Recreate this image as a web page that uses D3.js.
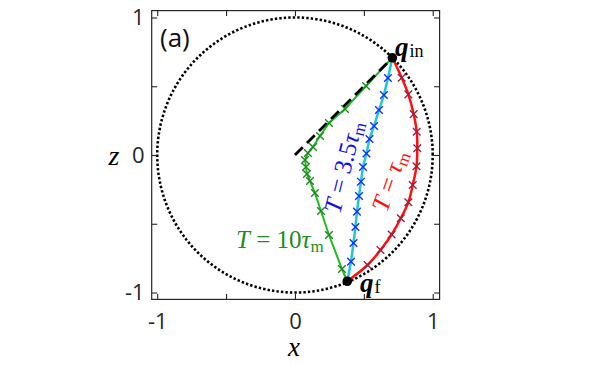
<!DOCTYPE html>
<html><head><meta charset="utf-8">
<script src="https://cdn.jsdelivr.net/npm/d3@7/dist/d3.min.js"></script>
<style>body{margin:0;background:#fff}svg{display:block}</style>
</head><body>
<svg id="c" width="598" height="365"></svg>
<script>
// ---- data ----
const xTicks = [-1, -0.5, 0, 0.5, 1];
const zTicks = [-1, -0.5, 0, 0.5, 1];
const tickLabels = {"-1": "-1", "0": "0", "1": "1"};
const qIn = [0.707, 0.707];
const qF = [0.38, -0.918];
// T = tau_m (red)
const redX = [0.775, 0.823, 0.862, 0.884, 0.888, 0.882, 0.855, 0.823, 0.768, 0.702, 0.621, 0.527];
const redZ = [0.562, 0.441, 0.297, 0.169, 0.049, -0.082, -0.218, -0.344, -0.460, -0.578, -0.691, -0.800];
// T = 3.5 tau_m (blue)
const blueX = [0.675, 0.646, 0.610, 0.574, 0.541, 0.519, 0.494, 0.479, 0.465, 0.450, 0.439, 0.425, 0.407];
const blueZ = [0.560, 0.436, 0.327, 0.211, 0.116, 0.011, -0.087, -0.194, -0.298, -0.412, -0.524, -0.640, -0.775];
// T = 10 tau_m (green)
const greenX = [0.516, 0.363, 0.247, 0.182, 0.131, 0.094, 0.073, 0.080, 0.087, 0.109, 0.145, 0.189, 0.247, 0.341];
const greenZ = [0.502, 0.335, 0.233, 0.138, 0.058, 0.015, -0.036, -0.087, -0.138, -0.189, -0.276, -0.407, -0.582, -0.829];

// ---- layout ----
const svg = d3.select("#c");
const x = d3.scaleLinear().domain([-1.04, 1.05]).range([151.7, 439.6]);
const z = d3.scaleLinear().domain([-1.05, 1.05]).range([299.4, 10.6]);
const X0 = x.range()[0], X1 = x.range()[1], Z0 = z.range()[1], Z1 = z.range()[0];
const axisCol = "#262626";
const sans = "'Open Sans', 'Noto Sans', sans-serif";
const serif = "'Liberation Serif', 'DejaVu Serif', serif";

// unit circle (dotted)
const circ = d3.range(0, 361, 1).map(a => [Math.cos(a * Math.PI / 180), Math.sin(a * Math.PI / 180)]);
svg.append("path")
  .attr("d", d3.line().x(d => x(d[0])).y(d => z(d[1]))(circ))
  .attr("fill", "none").attr("stroke", "#000").attr("stroke-width", 2.6)
  .attr("stroke-dasharray", "2.4,2.1");

const line = (curve) => d3.line().x(d => x(d[0])).y(d => z(d[1])).curve(curve);
function series(xs, zs) {
  return [qIn].concat(xs.map((v, i) => [v, zs[i]])).concat([qF]);
}
const redPts = series(redX, redZ);
const bluePts = series(blueX, blueZ);
const greenPts = series(greenX, greenZ);

svg.append("path").attr("d", line(d3.curveLinear)(greenPts))
  .attr("fill", "none").attr("stroke", "#22bb22").attr("stroke-width", 2);
svg.append("path").attr("d", line(d3.curveLinear)(bluePts))
  .attr("fill", "none").attr("stroke", "#1ec8d2").attr("stroke-width", 2.5);
svg.append("path").attr("d", line(d3.curveCatmullRom.alpha(0.5))(redPts))
  .attr("fill", "none").attr("stroke", "#ff1010").attr("stroke-width", 2.5);

// dashed line from origin to q_in
svg.append("path").attr("d", line(d3.curveLinear)([[0, 0], qIn]))
  .attr("fill", "none").attr("stroke", "#000").attr("stroke-width", 2.8)
  .attr("stroke-dasharray", "11,6");

// x markers
function markers(xs, zs, col) {
  const s = 3.8;
  svg.append("g").selectAll("path").data(xs.map((v, i) => [v, zs[i]])).join("path")
    .attr("d", d => {
      const px = x(d[0]), py = z(d[1]);
      return `M${px - s},${py - s}L${px + s},${py + s}M${px - s},${py + s}L${px + s},${py - s}`;
    })
    .attr("stroke", col).attr("stroke-width", 1.4).attr("fill", "none");
}
markers(greenX, greenZ, "#1c8a1c");
markers(blueX, blueZ, "#1030ff");
markers(redX, redZ, "#9a2040");

// endpoints
svg.append("g").selectAll("circle").data([qIn, qF]).join("circle")
  .attr("cx", d => x(d[0])).attr("cy", d => z(d[1])).attr("r", 4.8).attr("fill", "#000");

// axes box
svg.append("rect").attr("x", X0).attr("y", Z0).attr("width", X1 - X0).attr("height", Z1 - Z0)
  .attr("fill", "none").attr("stroke", axisCol).attr("stroke-width", 1.2);

const fmt = v => tickLabels[String(v)] || "";
const tk = 5.5;
const gB = svg.append("g").attr("transform", `translate(0,${Z1})`)
  .call(d3.axisBottom(x).tickValues(xTicks).tickSizeInner(-tk).tickSizeOuter(0).tickPadding(14).tickFormat(fmt));
const gT = svg.append("g").attr("transform", `translate(0,${Z0})`)
  .call(d3.axisTop(x).tickValues(xTicks).tickSizeInner(-tk).tickSizeOuter(0).tickFormat(""));
const gL = svg.append("g").attr("transform", `translate(${X0},0)`)
  .call(d3.axisLeft(z).tickValues(zTicks).tickSizeInner(-tk).tickSizeOuter(0).tickPadding(7).tickFormat(fmt));
const gR = svg.append("g").attr("transform", `translate(${X1},0)`)
  .call(d3.axisRight(z).tickValues(zTicks).tickSizeInner(-tk).tickSizeOuter(0).tickFormat(""));
[gB, gT, gL, gR].forEach(g => {
  g.select(".domain").remove();
  g.selectAll(".tick line").attr("stroke", axisCol).attr("stroke-width", 1.1);
  g.selectAll("text").attr("fill", "#262626").style("font-family", sans).style("font-size", "22px");
});

// axis labels
svg.append("text").attr("x", 294).attr("y", 356).attr("text-anchor", "middle")
  .style("font-family", serif).style("font-style", "italic").style("font-size", "27px").text("x");
svg.append("text").attr("x", 114).attr("y", 165).attr("text-anchor", "middle")
  .style("font-family", serif).style("font-style", "italic").style("font-size", "28px").text("z");

// panel label
svg.append("text").attr("x", 160).attr("y", 47)
  .style("font-family", sans).style("font-size", "26px").attr("fill", "#111").text("(a)");

// q labels
function qLabel(px, py, sub) {
  const t = svg.append("text").attr("x", px).attr("y", py).style("font-family", serif);
  t.append("tspan").style("font-weight", "bold").style("font-style", "italic").style("font-size", "27px").text("q");
  t.append("tspan").style("font-size", "18px").attr("dx", 1).attr("dy", 1).text(sub);
}
qLabel(395, 56, "in");
qLabel(360, 292, "f");

// T labels
function tLabel(cx, cy, ang, mid, col, anchor) {
  const g = svg.append("g").attr("transform", `translate(${cx},${cy}) rotate(${ang})`);
  const t = g.append("text").attr("text-anchor", anchor).attr("fill", col)
    .style("font-family", serif).style("font-size", "25px");
  t.append("tspan").style("font-style", "italic").text("T");
  t.append("tspan").text(" = " + mid);
  t.append("tspan").style("font-style", "italic").text("τ");
  t.append("tspan").style("font-size", "17px").attr("dy", 4).text("m");
  return t;
}
tLabel(390, 181, -71, "", "#ff1010", "middle").attr("dy", "0.3em");
tLabel(344, 167, -76, "3.5", "#1010ee", "middle").attr("dy", "0.3em");
tLabel(236, 248, 0, "10", "#1e8c1e", "start");
</script>
</body></html>
